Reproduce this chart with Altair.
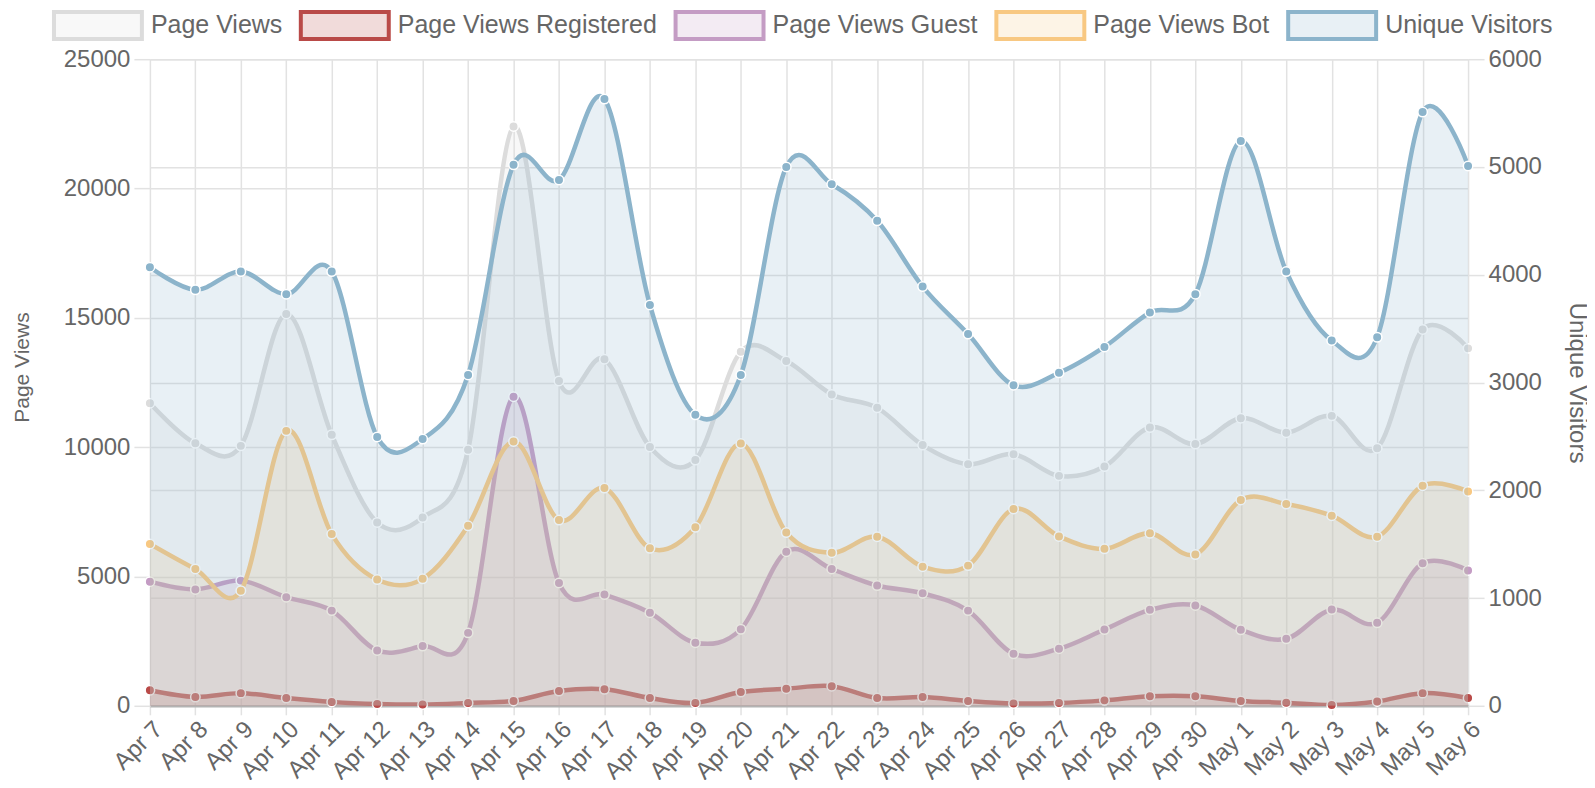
import altair as alt
import pandas as pd

dates = ["Apr 7", "Apr 8", "Apr 9", "Apr 10", "Apr 11", "Apr 12", "Apr 13", "Apr 14",
         "Apr 15", "Apr 16", "Apr 17", "Apr 18", "Apr 19", "Apr 20", "Apr 21", "Apr 22",
         "Apr 23", "Apr 24", "Apr 25", "Apr 26", "Apr 27", "Apr 28", "Apr 29", "Apr 30",
         "May 1", "May 2", "May 3", "May 4", "May 5", "May 6"]

page_views = [11700, 10150, 10050, 15150, 10480, 7090, 7280, 9900, 22400, 12560,
              13400, 10010, 9500, 13690, 13330, 12040, 11520, 10080, 9340, 9730,
              8890, 9250, 10760, 10120, 11120, 10560, 11210, 9960, 14550, 13820]
page_views_registered = [600, 340, 490, 300, 150, 70, 50, 110, 190, 570,
                         640, 300, 110, 530, 660, 760, 300, 340, 190, 90,
                         110, 210, 370, 370, 190, 120, 30, 170, 490, 300]
page_views_guest = [4800, 4500, 4840, 4200, 3680, 2140, 2310, 2820, 11950, 4750,
                    4300, 3600, 2440, 2960, 5960, 5290, 4650, 4350, 3680, 2010,
                    2210, 2950, 3710, 3880, 2940, 2590, 3720, 3210, 5510, 5230]
page_views_bot = [6260, 5290, 4450, 10630, 6640, 4880, 4910, 6960, 10220, 7180,
                  8420, 6090, 6900, 10140, 6700, 5920, 6540, 5380, 5420, 7610,
                  6550, 6070, 6670, 5850, 7960, 7800, 7350, 6540, 8510, 8290]
unique_visitors = [4070, 3860, 4030, 3820, 4030, 2495, 2475, 3070, 5020, 4880,
                   5630, 3720, 2700, 3070, 5000, 4840, 4500, 3890, 3450, 2975,
                   3090, 3330, 3650, 3820, 5240, 4030, 3390, 3420, 5510, 5010]

series_names = ["Page Views", "Page Views Registered", "Page Views Guest",
                "Page Views Bot", "Unique Visitors"]
series_colors = ["#dcdcdc", "#b94a48", "#c49cc4", "#f8c882", "#8cb4cb"]
legend_fills = ["#f8f8f8", "#f1dbda", "#f3ebf3", "#fdf4e6", "#e8f0f5"]
left_ticks = [0, 5000, 10000, 15000, 20000, 25000]
right_ticks = [0, 1000, 2000, 3000, 4000, 5000, 6000]

rows = []
for name, vals in zip(series_names, [page_views, page_views_registered, page_views_guest,
                                      page_views_bot, unique_visitors]):
    for d, v in zip(dates, vals):
        rows.append({"date": d, "series": name, "value": v})
df = pd.DataFrame(rows)

FONT = "Liberation Sans"
GRID = "#e2e2e2"
TXT = "#666666"

color_scale = alt.Scale(domain=series_names, range=series_colors)
legend = alt.Legend(
    title=None, orient="none", legendX=-98, legendY=-80, direction="horizontal",
    columns=5, symbolType="M-1,-0.307H1V0.307H-1Z", symbolSize=7744,
    symbolStrokeWidth=4, symbolOpacity=1, labelFontSize=25, labelFont=FONT,
    labelColor=TXT, labelOffset=7, labelLimit=600, columnPadding=10, padding=0,
)

xaxis = alt.Axis(title=None, labelAngle=-45, labelAlign="right", labelBaseline="top",
                 labelFontSize=24, labelFont=FONT, labelColor=TXT, labelOverlap=False,
                 grid=True, gridColor=GRID, gridWidth=1.5, tickSize=9, tickColor=GRID,
                 tickWidth=1.5, domain=True, domainColor="#b3b3b3", domainWidth=2.5,
                 labelPadding=2)

left_axis = alt.Axis(title="Page Views", values=left_ticks, format="d", orient="left",
                     labelFontSize=24, labelFont=FONT, labelColor=TXT,
                     grid=True, gridColor=GRID, gridWidth=1.5,
                     tickSize=16, tickColor=GRID, tickWidth=1.5, domain=False,
                     labelPadding=4, titleFontSize=21, titleFont=FONT, titleColor=TXT,
                     titleFontWeight="normal", titlePadding=31, titleY=308)
right_axis = alt.Axis(title="Unique Visitors", values=right_ticks, format="d", orient="right",
                      labelFontSize=24, labelFont=FONT, labelColor=TXT,
                      grid=True, gridColor=GRID, gridWidth=1.5,
                      tickSize=16, tickColor=GRID, tickWidth=1.5, domain=False,
                      labelPadding=4, titleFontSize=24, titleFont=FONT, titleColor=TXT,
                      titleFontWeight="normal", titlePadding=23)

X = alt.X("date:O", sort=dates, scale=alt.Scale(type="point", padding=0), axis=xaxis)

def series_layers(name, yenc):
    base = alt.Chart(df).transform_filter(alt.datum.series == name)
    c = alt.Color("series:N", scale=color_scale, legend=None)
    area = base.mark_area(interpolate="cardinal", fillOpacity=0.2, clip=True).encode(x=X, y=yenc, color=c)
    line = base.mark_line(interpolate="cardinal", strokeWidth=4.5, clip=True).encode(x=X, y=yenc, color=c)
    pts = base.mark_circle(size=90, opacity=1, stroke="white", strokeWidth=1.5).encode(x=X, y=yenc, color=c)
    return [area, line, pts]

y_left = alt.Y("value:Q", scale=alt.Scale(domain=[0, 25000], nice=False), axis=left_axis)
y_right = alt.Y("value:Q", scale=alt.Scale(domain=[0, 6000], nice=False), axis=right_axis)

legend_layer = alt.Chart(df).mark_point(opacity=0, filled=False).encode(
    x=X, y=y_left,
    fill=alt.Fill("series:N", scale=alt.Scale(domain=series_names, range=legend_fills), legend=legend),
    stroke=alt.Stroke("series:N", scale=alt.Scale(domain=series_names, range=series_colors), legend=legend),
)

left_layers = [legend_layer]
for n in series_names[:4]:
    left_layers += series_layers(n, y_left)
right_layers = series_layers(series_names[4], y_right)

chart = alt.layer(alt.layer(*left_layers), alt.layer(*right_layers)).resolve_scale(
    y="independent"
).properties(
    width=1319, height=647,
    autosize=alt.AutoSizeParams(type="none"),
    padding={"left": 142, "top": 51, "right": 119, "bottom": 74},
    background="white",
).configure_view(stroke=None)

chart.save("out.html", embed_options={"renderer": "svg", "actions": False})
